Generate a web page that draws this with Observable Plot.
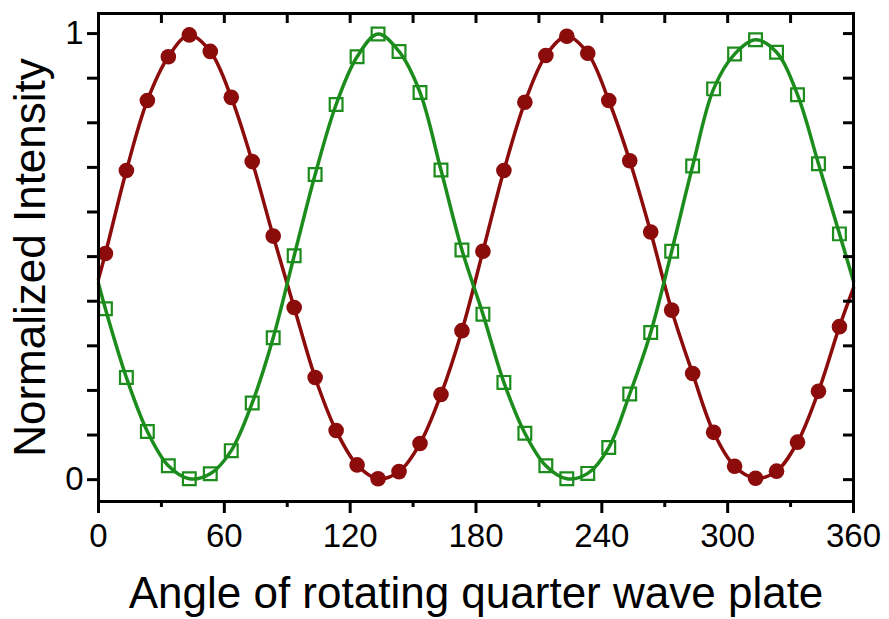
<!DOCTYPE html>
<html>
<head>
<meta charset="utf-8">
<script src="https://cdn.jsdelivr.net/npm/d3@7"></script>
<script src="https://cdn.jsdelivr.net/npm/@observablehq/plot@0.6"></script>
<style>
  html, body { margin: 0; padding: 0; background: white; }
</style>
</head>
<body>
<div id="chart"></div>
<script>
// Data
const angles = [3.3,13.3,23.3,33.3,43.3,53.3,63.3,73.3,83.3,93.3,103.3,113.3,123.3,133.3,143.3,153.3,163.3,173.3,183.3,193.3,203.3,213.3,223.3,233.3,243.3,253.3,263.3,273.3,283.3,293.3,303.3,313.3,323.3,333.3,343.3,353.3];
const redValues = [0.507,0.693,0.850,0.948,0.997,0.960,0.857,0.713,0.546,0.386,0.229,0.110,0.033,0.002,0.018,0.081,0.191,0.334,0.512,0.693,0.846,0.951,0.994,0.956,0.850,0.715,0.555,0.380,0.238,0.106,0.030,0.003,0.019,0.084,0.198,0.343];
const greenValues = [0.383,0.229,0.108,0.031,0.002,0.013,0.065,0.172,0.318,0.502,0.684,0.841,0.948,0.999,0.960,0.868,0.694,0.515,0.371,0.218,0.104,0.031,0.002,0.014,0.072,0.192,0.330,0.512,0.703,0.876,0.954,0.986,0.958,0.863,0.708,0.551];
// fitted-curve values at the plot edges
const edgeAngles = [0, 360];
const redEdge = [0.45, 0.43];
const greenEdge = [0.44, 0.445];

const xMajorTicks = [0, 60, 120, 180, 240, 300, 360];
const xMinorTicks = [30, 90, 150, 210, 270, 330];
const xAllTicks = [30, 60, 90, 120, 150, 180, 210, 240, 270, 300, 330];
const yTicks = [0, 0.1, 0.2, 0.3, 0.4, 0.5, 0.6, 0.7, 0.8, 0.9, 1];
const yTickLabels = {0: "0", 1: "1"};
const xTitle = "Angle of rotating quarter wave plate";
const yTitle = "Normalized Intensity";

const RED = "#8c0b0b";
const GREEN = "#1c8c1c";

const redPts = angles.map((a, i) => ({angle: a, value: redValues[i]}));
const greenPts = angles.map((a, i) => ({angle: a, value: greenValues[i]}));
const redLine = [{angle: edgeAngles[0], value: redEdge[0]}, ...redPts, {angle: edgeAngles[1], value: redEdge[1]}];
const greenLine = [{angle: edgeAngles[0], value: greenEdge[0]}, ...greenPts, {angle: edgeAngles[1], value: greenEdge[1]}];

const W = 889, H = 619;
const mL = 98, mR = 36, mT = 13, mB = 118;
const frameW = W - mL - mR, frameH = H - mT - mB;

const chart = Plot.plot({
  width: W,
  height: H,
  marginLeft: mL,
  marginRight: mR,
  marginTop: mT,
  marginBottom: mB,
  style: {fontFamily: "'Liberation Sans', Arial, sans-serif", background: "white", color: "black"},
  x: {domain: [0, 360]},
  y: {domain: [-0.049, 1.045]},
  marks: [
    Plot.line(redLine, {x: "angle", y: "value", stroke: RED, strokeWidth: 3.5, curve: "catmull-rom"}),
    Plot.line(greenLine, {x: "angle", y: "value", stroke: GREEN, strokeWidth: 3.5, curve: "catmull-rom"}),
    Plot.dot(redPts, {x: "angle", y: "value", r: 7.8, fill: RED, stroke: "none"}),
    Plot.dot(greenPts, {x: "angle", y: "value", r: 7.2, symbol: "square", fill: "none", stroke: GREEN, strokeWidth: 2.2}),
    Plot.frame({stroke: "black", strokeWidth: 3}),
    Plot.axisX({anchor: "bottom", ticks: xMajorTicks, tickSize: 12, tickPadding: 10, fontSize: 33, strokeWidth: 3, label: null, tickFormat: d => String(d)}),
    Plot.axisX({anchor: "bottom", ticks: xMinorTicks, tickSize: 6, strokeWidth: 3, label: null, tickFormat: () => ""}),
    Plot.axisY({anchor: "left", ticks: yTicks, tickSize: 11, tickPadding: 4, fontSize: 33, strokeWidth: 3, label: null, tickFormat: d => yTickLabels[d] ?? ""}),
    Plot.tickX(xAllTicks, {x: d => d, insetBottom: frameH - 10, stroke: "black", strokeWidth: 3}),
    Plot.tickY(yTicks, {y: d => d, insetLeft: frameW - 10, stroke: "black", strokeWidth: 3}),
    Plot.text([xTitle], {text: d => d, frameAnchor: "bottom", dy: 92, fontSize: 44, lineAnchor: "middle", textAnchor: "middle", fill: "black"}),
    Plot.text([yTitle], {text: d => d, frameAnchor: "left", dx: -68, rotate: -90, fontSize: 44, lineAnchor: "middle", textAnchor: "middle", fill: "black"})
  ]
});

document.getElementById("chart").appendChild(chart);
</script>
</body>
</html>
